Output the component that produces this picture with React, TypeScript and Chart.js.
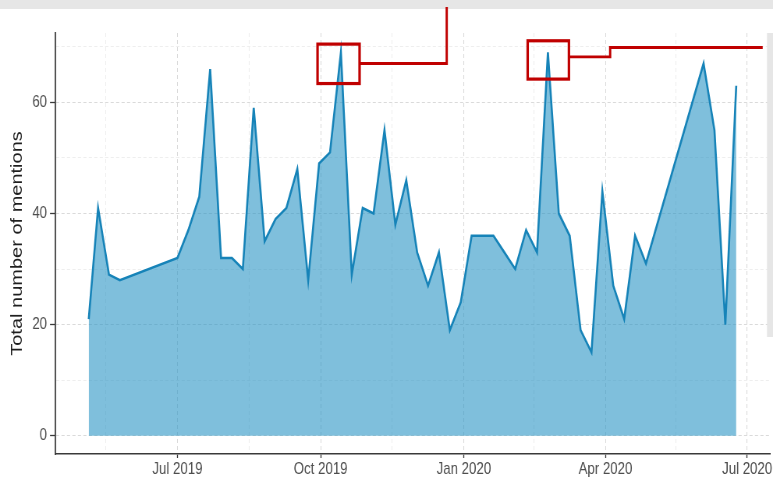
import React, { useEffect, useRef } from 'react';
import { Chart, registerables } from 'chart.js';

Chart.register(...registerables);

// ---- data ----
const dates = [
  '2019-05-05', '2019-05-11', '2019-05-18', '2019-05-25', '2019-07-01', '2019-07-08',
  '2019-07-15', '2019-07-22', '2019-07-29', '2019-08-05', '2019-08-12', '2019-08-19',
  '2019-08-26', '2019-09-02', '2019-09-09', '2019-09-16', '2019-09-23', '2019-09-30',
  '2019-10-07', '2019-10-14', '2019-10-21', '2019-10-28', '2019-11-04', '2019-11-11',
  '2019-11-18', '2019-11-25', '2019-12-02', '2019-12-09', '2019-12-16', '2019-12-23',
  '2019-12-30', '2020-01-06', '2020-01-13', '2020-01-20', '2020-01-27', '2020-02-03',
  '2020-02-10', '2020-02-17', '2020-02-24', '2020-03-02', '2020-03-09', '2020-03-16',
  '2020-03-23', '2020-03-30', '2020-04-06', '2020-04-13', '2020-04-20', '2020-04-27',
  '2020-06-03', '2020-06-10', '2020-06-17', '2020-06-24',
];
const mentions = [
  21, 41, 29, 28, 32, 37,
  43, 66, 32, 32, 30, 59,
  35, 39, 41, 48, 28, 49,
  51, 69, 29, 41, 40, 55,
  38, 46, 33, 27, 33, 19,
  24, 36, 36, 36, 33, 30,
  37, 33, 69, 40, 36, 19,
  15, 44, 27, 21, 36, 31,
  67, 55, 20, 63,
];

const xMajorDates = ['2019-07-01', '2019-10-01', '2020-01-01', '2020-04-01', '2020-07-01'];
const xMajorLabels = ['Jul 2019', 'Oct 2019', 'Jan 2020', 'Apr 2020', 'Jul 2020'];
const xMinorDates = ['2019-05-16', '2019-08-16', '2019-11-16', '2020-02-15', '2020-05-16'];
const xLimits = ['2019-04-13T08:00:00Z', '2020-07-16T00:00:00Z'];
const yMajor = [0, 20, 40, 60];
const yMinor = [10, 30, 50, 70];
const yLimits = [-3.3, 72.5];

// red highlight annotations (data units)
const boxStart = ['2019-09-29', '2020-02-11'];
const boxEnd = ['2019-10-26', '2020-03-08T12:00:00Z'];
const boxLow = [63.4, 64.2];
const boxHigh = [70.5, 71.1];
const leader1X = ['2019-10-26', '2019-12-21', '2019-12-21'];
const leader1Y = [67.0, 67.0, 77.2];
const leader2X = ['2020-03-08T12:00:00Z', '2020-04-04', '2020-04-04', '2020-07-11'];
const leader2Y = [68.2, 68.2, 69.9, 69.9];

// ---- layout ----
const SX = 0.78; // horizontal squeeze of the reference picture
const CSS_W = 773;
const CSS_H = 482;
const W = Math.round(CSS_W / SX);
const FONT = "'Liberation Sans', Arial, Helvetica, sans-serif";

const ts = (s: string) => Date.parse(s.length === 10 ? s + 'T00:00:00Z' : s);
const xMajorTs = xMajorDates.map(ts);
const xMinorTs = xMinorDates.map(ts);

const decorPlugin = {
  id: 'decor',
  beforeDraw(chart: any) {
    const ctx = chart.ctx;
    ctx.save();
    ctx.fillStyle = '#ffffff';
    ctx.fillRect(0, 0, chart.width, chart.height);
    ctx.restore();
  },
  afterDraw(chart: any) {
    const { ctx, chartArea } = chart;
    const x = chart.scales.x;
    const y = chart.scales.y;
    ctx.save();
    // window chrome strips seen in the reference
    ctx.fillStyle = '#e6e6e6';
    ctx.fillRect(0, 0, chart.width, 9);
    ctx.fillRect(767 / SX, chartArea.top, chart.width - 767 / SX, 337 - chartArea.top);

    ctx.strokeStyle = '#c00000';
    ctx.lineJoin = 'miter';
    ctx.lineCap = 'butt';
    ctx.lineWidth = 3.2;
    for (let i = 0; i < boxStart.length; i++) {
      const x0 = x.getPixelForValue(ts(boxStart[i]));
      const x1 = x.getPixelForValue(ts(boxEnd[i]));
      const y0 = y.getPixelForValue(boxHigh[i]);
      const y1 = y.getPixelForValue(boxLow[i]);
      ctx.strokeRect(x0, y0, x1 - x0, y1 - y0);
    }
    ctx.lineWidth = 2.9;
    for (const [lx, ly] of [[leader1X, leader1Y], [leader2X, leader2Y]] as [string[], number[]][]) {
      ctx.beginPath();
      lx.forEach((d, i) => {
        const px = x.getPixelForValue(ts(d));
        const py = y.getPixelForValue(ly[i]);
        if (i === 0) ctx.moveTo(px, py);
        else ctx.lineTo(px, py);
      });
      ctx.stroke();
    }
    ctx.restore();
  },
};

export default function App() {
  const ref = useRef<HTMLCanvasElement | null>(null);

  useEffect(() => {
    if (!ref.current) return;
    const isXMajor = (v: number) => xMajorTs.includes(v);
    const isYMajor = (v: number) => yMajor.includes(v);
    const chart = new Chart(ref.current, {
      type: 'line',
      data: {
        datasets: [
          {
            data: dates.map((d, i) => ({ x: ts(d), y: mentions[i] })),
            fill: 'origin',
            backgroundColor: 'rgba(42,148,197,0.6)',
            borderColor: '#1683b8',
            borderWidth: 2.6,
            pointRadius: 0,
            tension: 0,
          },
        ],
      },
      options: {
        animation: false,
        responsive: false,
        devicePixelRatio: 1,
        layout: { padding: { top: 33, right: 1 / SX, left: 0, bottom: 0 } },
        plugins: {
          legend: { display: false },
          tooltip: { enabled: false },
        },
        scales: {
          x: {
            type: 'linear',
            min: ts(xLimits[0]),
            max: ts(xLimits[1]),
            afterBuildTicks: (scale: any) => {
              scale.ticks = [...xMajorTs, ...xMinorTs].sort((a, b) => a - b).map((v) => ({ value: v }));
            },
            afterFit: (scale: any) => {
              scale.height = CSS_H - 454;
            },
            ticks: {
              autoSkip: false,
              maxRotation: 0,
              minRotation: 0,
              padding: 1,
              color: '#4d4d4d',
              font: { family: FONT, size: 17 },
              callback: (v: any) => {
                const i = xMajorTs.indexOf(Number(v));
                return i >= 0 ? xMajorLabels[i] : '';
              },
            },
            grid: {
              color: (c: any) => (c.tick && isXMajor(c.tick.value) ? '#dadada' : '#eeeeee'),
              tickColor: (c: any) => (c.tick && isXMajor(c.tick.value) ? '#3a3a3a' : 'rgba(0,0,0,0)'),
              tickLength: 4,
              lineWidth: 1,
              tickWidth: 1.3,
            },
            border: { display: true, color: '#3a3a3a', width: 1.6, dash: [4, 3] },
          },
          y: {
            type: 'linear',
            min: yLimits[0],
            max: yLimits[1],
            afterBuildTicks: (scale: any) => {
              scale.ticks = [...yMajor, ...yMinor].sort((a, b) => a - b).map((v) => ({ value: v }));
            },
            afterFit: (scale: any) => {
              scale.width = 55 / SX;
            },
            ticks: {
              padding: 3.8,
              color: '#4d4d4d',
              font: { family: FONT, size: 17 },
              callback: (v: any) => (isYMajor(Number(v)) ? String(v) : ''),
            },
            grid: {
              color: (c: any) => (c.tick && isYMajor(c.tick.value) ? '#dadada' : '#eeeeee'),
              tickColor: (c: any) => (c.tick && isYMajor(c.tick.value) ? '#3a3a3a' : 'rgba(0,0,0,0)'),
              tickLength: 6.4,
              lineWidth: 1,
              tickWidth: 1.3,
            },
            border: { display: true, color: '#3a3a3a', width: 1.8, dash: [4, 3] },
            title: {
              display: true,
              text: 'Total number of mentions',
              color: '#1f1f1f',
              font: { family: FONT, size: 20 },
              padding: { top: 10.4, bottom: 0 },
            },
          },
        },
      },
      plugins: [decorPlugin],
    } as any);
    return () => chart.destroy();
  }, []);

  return (
    <div style={{ position: 'fixed', left: 0, top: 0, width: CSS_W, height: CSS_H, background: '#fff' }}>
      <canvas
        ref={ref}
        width={W}
        height={CSS_H}
        style={{ width: CSS_W + 'px', height: CSS_H + 'px', display: 'block' }}
      />
    </div>
  );
}
